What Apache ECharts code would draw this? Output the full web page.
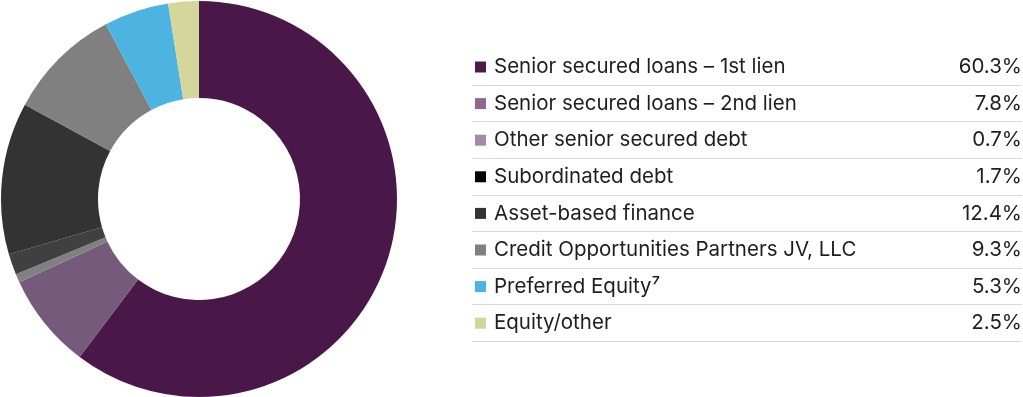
<!DOCTYPE html>
<html>
<head>
<meta charset="utf-8">
<script src="https://cdn.jsdelivr.net/npm/echarts@6/dist/echarts.min.js"></script>
<style>
  html, body { margin: 0; padding: 0; background: #fff; }
  #chart { width: 1023px; height: 397px; }
</style>
</head>
<body>
<div id="chart"></div>
<script>
// data
var categories = [
  'Senior secured loans – 1st lien',
  'Senior secured loans – 2nd lien',
  'Other senior secured debt',
  'Subordinated debt',
  'Asset-based finance',
  'Credit Opportunities Partners JV, LLC',
  'Preferred Equity⁷',
  'Equity/other'
];
var shares = [60.3, 7.8, 0.7, 1.7, 12.4, 9.3, 5.3, 2.5];
var sliceColors = ['#4a1848', '#755a7b', '#808080', '#404040', '#333333', '#808080', '#4db3e0', '#d4d69c'];
var legendColors = ['#4c1a4a', '#8b6a8e', '#a58aa8', '#000000', '#333333', '#808080', '#4db3e0', '#d1d69b'];

// legend layout
var legendLeft = 475, legendTop = 56, rowH = 22, rowGap = 14.6;
var lineX1 = 472, lineX2 = 1022;
var fontSize = 20.5;

var chart = echarts.init(document.getElementById('chart'));

var lines = categories.map(function (c, i) {
  var y = Math.round(legendTop + (i + 1) * (rowH + rowGap) - rowGap / 2 - 0.5) + 0.5;
  return {
    type: 'line',
    shape: { x1: lineX1, y1: y, x2: lineX2, y2: y },
    style: { stroke: '#d9d9d9', lineWidth: 1 },
    silent: true
  };
});

var option = {
  animation: false,
  backgroundColor: '#fff',
  legend: {
    orient: 'vertical',
    left: legendLeft,
    top: legendTop,
    padding: 0,
    itemWidth: 11,
    itemHeight: 11,
    itemGap: rowGap,
    icon: 'rect',
    selectedMode: false,
    data: categories.map(function (c, i) {
      return { name: c, itemStyle: { color: legendColors[i] } };
    }),
    formatter: function (name) {
      var i = categories.indexOf(name);
      return '{n|' + name + '}{v|' + shares[i].toFixed(1) + '%}';
    },
    textStyle: {
      fontFamily: 'Inter',
      fontSize: fontSize,
      color: '#1e1e1e',
      lineHeight: rowH,
      height: rowH,
      padding: [0, 0, 0, 3],
      rich: {
        n: { width: 458, fontFamily: 'Inter', fontSize: fontSize, color: '#1e1e1e', lineHeight: rowH, height: rowH },
        v: { width: 70, align: 'right', fontFamily: 'Inter', fontSize: fontSize, color: '#1e1e1e', lineHeight: rowH, height: rowH }
      }
    }
  },
  graphic: lines,
  series: [{
    type: 'pie',
    center: [199, 199],
    radius: [101, 198],
    startAngle: 90,
    clockwise: true,
    label: { show: false },
    labelLine: { show: false },
    emphasis: { disabled: true },
    itemStyle: { borderWidth: 0 },
    data: categories.map(function (c, i) {
      return { name: c, value: shares[i], itemStyle: { color: sliceColors[i] } };
    })
  }]
};

chart.setOption(option);
</script>
</body>
</html>
